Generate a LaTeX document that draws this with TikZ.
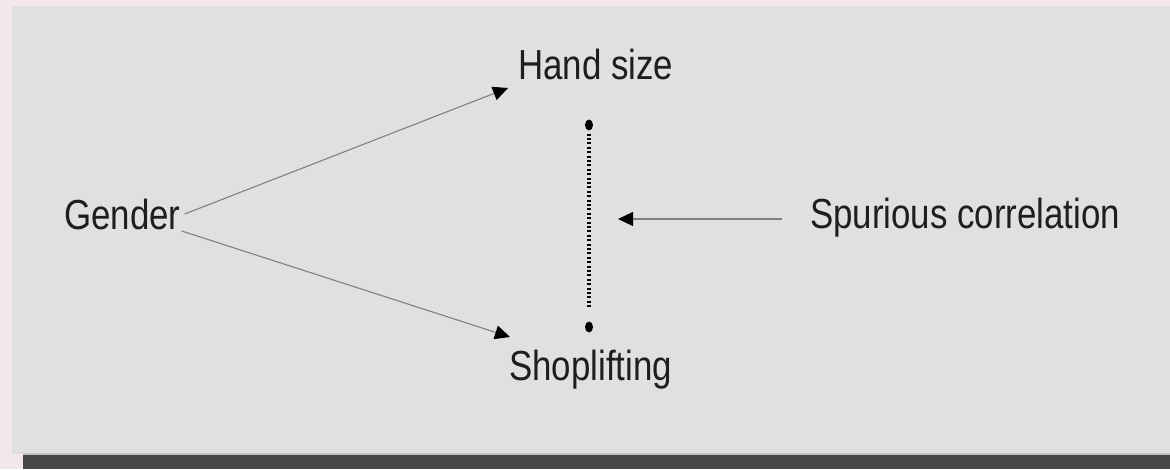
\documentclass[tikz,border=0pt]{standalone}
\usepackage{xcolor}
\usepackage{fontspec}
\setmainfont[FakeStretch=0.83]{Liberation Sans}
\usepackage{tikz}
\usetikzlibrary{arrows.meta,shapes.geometric}

\definecolor{pagepink}{RGB}{243,231,235}
\definecolor{panelgrey}{RGB}{224,224,224}
\definecolor{bardark}{RGB}{70,70,70}
\definecolor{edgegrey}{RGB}{196,196,196}
\definecolor{linegrey}{RGB}{128,128,128}
\definecolor{textdark}{RGB}{30,30,30}

\begin{document}
\begin{tikzpicture}[x=1pt,y=1pt,
    lbl/.style={anchor=base west,inner sep=0pt,text=textdark,font=\fontsize{42}{48}\selectfont},
    causal/.style={draw=linegrey,line width=1.1pt,-{Triangle[length=15pt,width=14pt,color=black]}},
    enddot/.style={ellipse,fill=black,inner sep=0pt,minimum width=8pt,minimum height=11pt},
    corr/.style={line width=3.5pt,dash pattern=on 2pt off 2.4pt}]
            % background
            \fill[pagepink] (0,0) rectangle (1170,469);
            \fill[panelgrey] (12,15) rectangle (1170,463);
            \fill[edgegrey] (23,14) rectangle (1170,16);
            \fill[bardark] (23,0) rectangle (1170,14);
            \useasboundingbox (0,0) rectangle (1170,469);

            % labels
            \node[lbl] (gender) at (64,239) {Gender};
            \node[lbl] (hand) at (518,389) {Hand size};
            \node[lbl] (shop) at (509,89) {Shoplifting};
            \node[lbl] (spur) at (810,240) {Spurious correlation};

            \node[enddot] (hdot) at (589,344) {};
            \node[enddot] (sdot) at (589,142) {};
            \coordinate (tip) at (618,250);

            % arrows
            \draw[causal] ([xshift=4pt,yshift=16pt]gender.base east) -- ([xshift=-10pt,yshift=-8pt]hand.base west);
            \draw[causal] ([xshift=1pt,yshift=-1pt]gender.base east) -- ([xshift=1pt,yshift=43pt]shop.base west);
            \draw[causal] ([xshift=-28pt,yshift=10pt]spur.base west) -- (tip);
            \draw[corr] ([yshift=-3pt]hdot.south) -- ([yshift=12pt]sdot.north);
\end{tikzpicture}
\end{document}
